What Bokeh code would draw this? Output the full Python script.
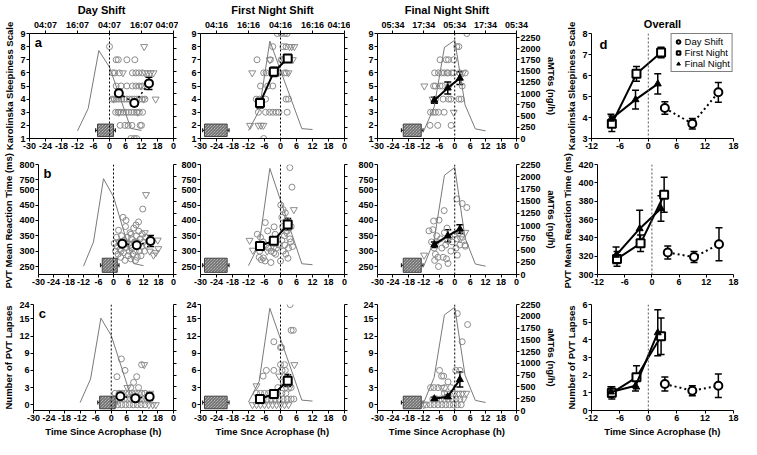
from bokeh.plotting import figure
from bokeh.models import (Range1d, LinearAxis, FixedTicker, Label, Span, Whisker, TeeHead,
                          ColumnDataSource, Legend, LegendItem)
from bokeh.layouts import row, column
from bokeh.embed import file_html
from bokeh.resources import INLINE

# ---------------- data ----------------
col_titles = ["Day Shift", "First Night Shift", "Final Night Shift", "Overall"]
clock_day = ["04:07", "16:07", "04:07", "16:07", "04:07"]
clock_first = ["04:16", "16:16", "04:16", "16:16", "04:16"]
clock_final = ["05:34", "17:34", "05:34", "17:34", "05:34"]
clock_ticks = [-24, -12, 0, 12, 24]
x_ticks = [-30, -24, -18, -12, -6, 0, 6, 12, 18, 24]
x_tick_labels = ["-30", "-24", "-18", "-12", "-6", "0", "6", "12", "18", "0"]
x_ticks_overall = [-12, -6, 0, 6, 12, 18]
x_tick_labels_overall = ["-12", "-6", "0", "6", "12", "18"]
mel_ticks = [0, 250, 500, 750, 1000, 1250, 1500, 1750, 2000, 2250]

# melatonin (aMT6s, ng/h) profiles
mel_day_x = [-12, -8, -4, 0, 8, 12]
mel_day = [170, 667, 1960, 1590, 225, 180]
mel_first_x = [-12, -8, -4, 8, 12]
mel_first = [180, 620, 2170, 220, 200]
mel_final_x = [-12, -8, -4, 0, 4, 8, 12]
mel_final = [175, 700, 2030, 2190, 750, 215, 170]

# sleep periods (h since acrophase)
sleep_day = [-4.5, 1.5]
sleep_first = [-28.5, -20.0]
sleep_final = [-20.0, -13.0]

# group means
day_x = [3.5, 9.3, 14.8]
first_x = [-7.7, -2.5, 2.7]
final_x = [-7.9, -2.7, 2.0]
kss_day = [4.45, 3.7, 5.2]
kss_day_err = [0.3, 0.25, 0.47]
kss_first = [3.7, 6.08, 7.1]
kss_first_err = [0.37, 0.35, 0.25]
kss_final = [3.92, 4.85, 5.6]
kss_final_err = [0.23, 0.45, 0.48]
rt_day = [324, 319, 333]
rt_day_err = [7, 6, 18]
rt_first = [317, 334, 387]
rt_first_err = [8, 9, 19]
rt_final = [321, 350, 372]
rt_final_err = [9, 20, 14]
lap_day = [1.5, 1.12, 1.4]
lap_day_err = [0.4, 0.28, 0.67]
lap_first = [1.0, 1.88, 4.2]
lap_first_err = [0.35, 0.65, 1.03]
lap_final = [1.05, 1.4, 4.4]
lap_final_err = [0.3, 0.3, 1.3]

# individual observations (x = h since acrophase)
kss_day_circles = [(0, 8), (2.5, 7), (3.3, 7), (6.5, 7), (9.5, 7),
    (1.2, 6), (2.0, 6), (3.7, 6), (8.6, 6), (9.9, 6), (11.0, 6), (12.3, 6),
    (2.5, 5), (4.3, 5), (6.5, 5), (8.6, 5), (9.9, 5), (11.1, 5), (12.3, 5),
    (1.0, 4), (1.8, 4), (2.6, 4), (3.5, 4), (4.5, 4), (5.5, 4), (6.5, 4), (7.5, 4), (8.5, 4),
    (9.4, 4), (10.3, 4), (11.2, 4), (12.2, 4), (13.3, 4),
    (2.3, 3), (3.2, 3), (4.2, 3), (5.2, 3), (6.2, 3), (7.2, 3), (8.2, 3), (9.2, 3), (10.2, 3),
    (11.2, 3), (12.4, 3), (4.0, 2), (5.8, 2), (7.0, 2), (8.4, 2), (11.5, 2), (12.0, 2),
    (8.0, 1), (9.3, 1), (10.2, 1)]
kss_day_tris = [(13.0, 8), (5.0, 6), (13.3, 6), (14.3, 6), (15.4, 6), (16.5, 6), (11.8, 5),
    (1.5, 4), (12.8, 4), (17.3, 4), (3.5, 3), (10.6, 3)]
kss_first_circles = [(-1.2, 9), (0.2, 9), (1.5, 9), (2.5, 9), (-2.9, 8), (0.9, 8), (2.1, 8),
    (-8.8, 7), (-3.8, 7), (0.5, 7), (1.5, 7), (2.5, 7), (3.3, 7), (0.3, 7),
    (-6.3, 6), (-5.4, 6), (-3.5, 6), (-1.6, 6), (1.5, 6), (2.2, 6), (-2.5, 6), (-0.5, 6),
    (-7.5, 5), (-4.8, 5), (-2.9, 5), (-9.1, 4), (-7.9, 4), (-5.6, 4), (2.1, 4), (3.0, 4),
    (-8.3, 3), (-5.6, 3), (-4.1, 3), (-2.9, 3), (-1.6, 3), (-0.6, 3), (2.5, 3), (-6.3, 1)]
kss_first_tris = [(3.4, 8), (4.2, 8), (5.2, 8), (4.6, 7), (-4.0, 7), (-10.6, 6), (3.0, 6),
    (-1.0, 6), (-11.4, 2), (-8.3, 2), (-7.3, 2), (-6.4, 2)]
kss_final_circles = [(4.7, 9), (0.8, 8), (1.6, 8), (-5.7, 7), (-3.3, 7), (-2.4, 7), (-0.4, 7),
    (-7.8, 6), (-6.3, 6), (-5.1, 6), (-4.1, 6), (-2.6, 6), (-1.2, 6), (-0.4, 6), (2.0, 6),
    (4.1, 6), (-3.0, 6), (-8.2, 5), (-7.5, 5), (-5.7, 5), (-4.8, 5), (2.9, 5),
    (-7.5, 4), (-4.5, 4), (-2.4, 4), (1.6, 4), (2.5, 4), (-1.5, 4),
    (-9.4, 3), (-8.4, 3), (-7.5, 3), (-6.3, 3), (-4.1, 3), (-9.6, 2), (-6.6, 2), (-1.4, 2)]
kss_final_tris = [(-11.8, 5), (-2.0, 5), (3.2, 6), (-8.6, 4), (-0.4, 3)]

rt_day_circles = [(0.3, 325), (0.8, 300), (1.2, 345), (1.5, 315), (1.8, 290), (2.0, 368),
    (2.3, 330), (2.6, 305), (2.9, 280), (3.2, 350), (3.5, 318), (3.8, 410), (4.0, 295),
    (4.3, 335), (4.6, 270), (5.0, 400), (5.2, 312), (5.5, 345), (5.8, 285), (6.0, 325),
    (6.3, 300), (6.6, 360), (6.9, 275), (7.2, 340), (7.5, 310), (7.8, 290), (8.1, 375),
    (8.4, 330), (8.7, 300), (9.0, 385), (9.2, 350), (9.5, 280), (9.8, 320), (10.1, 365),
    (10.4, 300), (10.7, 340), (11.0, 285), (11.3, 315), (11.7, 437), (12.0, 330),
    (12.4, 300), (12.8, 345), (13.2, 320), (4.8, 380), (7.0, 355), (8.8, 270), (10.0, 395),
    (3.0, 300), (6.8, 320), (11.5, 355)]
rt_day_tris = [(13.0, 484), (17.7, 336), (17.9, 308), (16.0, 287), (16.9, 295), (14.5, 300),
    (2.0, 330), (9.0, 330), (5.5, 325), (12.5, 360)]
rt_first_circles = [(3.5, 790), (4.3, 565), (0.1, 450), (1.0, 435), (1.8, 425), (0.5, 410),
    (2.4, 400), (-5.7, 393), (-8.7, 355), (-4.8, 366), (-2.4, 379), (-7.5, 345), (-6.5, 330),
    (-5.5, 320), (-4.5, 310), (-3.5, 300), (-2.5, 295), (-1.5, 310), (-0.5, 320), (0.5, 335),
    (1.5, 350), (2.5, 365), (3.5, 340), (4.5, 315), (1.0, 300), (2.0, 290), (-8.0, 280),
    (-7.2, 272), (-6.4, 278), (-5.8, 268), (-3.6, 263), (0.0, 268), (2.8, 277), (-1.0, 340),
    (-2.0, 355), (3.0, 310), (0.8, 380), (-7.8, 300), (-6.8, 310), (-1.8, 290), (1.6, 320),
    (4.0, 380), (3.8, 330)]
rt_first_tris = [(5.0, 435), (-11.6, 335), (-10.4, 303), (2.0, 360), (-2.5, 310), (-5.0, 300)]
rt_final_circles = [(0.8, 470), (2.9, 455), (4.7, 442), (-4.1, 432), (-8.2, 398), (-6.1, 401),
    (-10.0, 366), (-8.5, 370), (-7.0, 350), (-5.5, 340), (-4.0, 360), (-3.0, 375), (-2.0, 345),
    (-1.0, 330), (0.0, 355), (1.0, 340), (2.0, 320), (3.0, 345), (4.0, 320), (-9.0, 330),
    (-8.0, 310), (-7.5, 290), (-6.5, 280), (-6.3, 250), (-2.6, 260), (1.0, 287), (4.1, 316),
    (-5.0, 310), (-3.5, 320), (-1.5, 300), (0.5, 310), (-4.5, 280), (-3.2, 275), (1.5, 360),
    (-7.8, 270)]
rt_final_tris = [(-11.9, 287), (4.1, 361), (-6.8, 330), (-2.8, 335), (2.2, 340)]

lap_day_circles = [(3.9, 8), (5.3, 6), (2.2, 4.9), (9.8, 4.9), (8.6, 3.9), (11.7, 7),
    (1.5, 2), (3.0, 2), (4.2, 2), (5.5, 2), (6.8, 2), (8.0, 2), (9.3, 2), (10.5, 2), (11.8, 2),
    (13.0, 2), (2.0, 1), (3.5, 1), (5.0, 1), (6.2, 1), (7.5, 1), (8.8, 1), (10.0, 1), (11.2, 1),
    (12.5, 1), (13.8, 1), (1.0, 0), (2.5, 0), (4.0, 0), (5.5, 0), (7.0, 0), (8.5, 0), (10.0, 0),
    (11.5, 0), (13.0, 0), (7.5, 3), (10.5, 3)]
lap_day_tris = [(12.7, 7), (16.0, 0), (17.2, 0), (14.5, 0), (15.0, 2), (14.8, 1), (6.2, 3)]
lap_first_circles = [(3.6, 24), (4.0, 13), (4.8, 13), (-2.5, 11), (0.0, 10), (0.4, 10),
    (-5.3, 6), (-2.5, 6), (-6.5, 5), (0.0, 7), (1.5, 7), (0.6, 6), (1.8, 6), (2.5, 5), (3.2, 4),
    (4.0, 3), (-9.0, 2), (-7.5, 2), (-6.0, 2), (-4.5, 2), (-3.0, 2), (-1.5, 2), (0.5, 2), (2.0, 2),
    (-8.0, 1), (-6.5, 1), (-5.0, 1), (-3.5, 1), (-2.0, 1), (-0.5, 1), (1.0, 1), (2.5, 1), (4.0, 1),
    (5.0, 1), (-1.0, 3), (1.0, 4)]
lap_first_tris = [(5.2, 7), (-9.0, 3.3), (3.5, 3), (-10.5, 0), (-9.0, 0), (-7.5, 0), (-6.0, 0),
    (-4.5, 0), (-3.0, 0), (-1.5, 0), (0.0, 0), (1.5, 0), (3.0, 0), (-0.5, 5), (2.0, 3)]
lap_final_circles = [(1.0, 18.3), (5.0, 14), (2.9, 11), (-5.9, 6), (-5.1, 5), (-4.3, 5), (0.4, 6),
    (2.0, 6), (-2.6, 4), (-9.4, 3), (-8.1, 3), (-4.0, 3), (-4.0, 2), (-8.5, 1), (-7.0, 1),
    (-5.5, 1), (-4.0, 1), (-2.5, 1), (-1.0, 1), (0.5, 1), (2.0, 1), (-11.0, 0), (-9.5, 0),
    (-8.0, 0), (-6.5, 0), (-5.0, 0), (-3.5, 0), (-2.0, 0), (-0.5, 0), (1.0, 0), (2.5, 0),
    (-6.5, 3), (-1.5, 3)]
lap_final_tris = [(-5.1, 3), (0.0, 2), (1.5, 2), (3.0, 2), (4.5, 2), (-12.0, 0), (3.5, 1), (-3.0, 2)]

# ---------------- style / layout ----------------
FONT = "Liberation Sans"
GRAY = "#8c8c8c"
widths = [178, 172, 209, 182]
borders_lr = [(29, 5), (22, 6), (27, 38), (32, 8)]
heights = [152, 138, 149]
borders_tb = [(28, 14), (12, 16), (14, 27)]


def ident(v):
    return v


def brk_rt(v):  # broken axis 500 | 750
    if v <= 500:
        return v
    if v >= 750:
        return 532 + (v - 750)
    return 500 + (v - 500) * 32 / 250


def brk_lap(v):  # broken axis 15 | 24
    if v <= 15:
        return v
    if v >= 24:
        return 17.5 + (v - 24)
    return 15 + (v - 15) * 2.5 / 9


row_cfg = [
    dict(yr=(1, 9), ticks=[1, 2, 3, 4, 5, 6, 7, 8, 9], ov={}, mel=(0, 2340), box=(1.15, 2.1),
         label="Karolinska Sleepiness Scale", tf=ident, panel="a", py=8.85,
         yr4=(3, 8), ticks4=[3, 4, 5, 6, 7, 8]),
    dict(yr=(224, 582), ticks=[250, 300, 350, 400, 450, 500, 532, 582],
         ov={532: "750", 582: "800"}, mel=(0, 2250), box=(231, 277),
         label="PVT Mean Reaction  Time (ms)", tf=brk_rt, panel="b", py=577,
         yr4=(300, 420), ticks4=[300, 320, 340, 360, 380, 400, 420]),
    dict(yr=(-1, 17.5), ticks=[0, 3, 6, 9, 12, 15, 17.5], ov={17.5: "24"}, mel=(0, 2250),
         box=(-0.7, 1.5), label="Number of PVT Lapses", tf=brk_lap, panel="c", py=17.2,
         yr4=(0, 6), ticks4=[0, 1, 2, 3, 4, 5, 6]),
]

scatter_data = [
    [(kss_day_circles, kss_day_tris), (kss_first_circles, kss_first_tris), (kss_final_circles, kss_final_tris)],
    [(rt_day_circles, rt_day_tris), (rt_first_circles, rt_first_tris), (rt_final_circles, rt_final_tris)],
    [(lap_day_circles, lap_day_tris), (lap_first_circles, lap_first_tris), (lap_final_circles, lap_final_tris)],
]
mean_data = [
    [(day_x, kss_day, kss_day_err), (first_x, kss_first, kss_first_err), (final_x, kss_final, kss_final_err)],
    [(day_x, rt_day, rt_day_err), (first_x, rt_first, rt_first_err), (final_x, rt_final, rt_final_err)],
    [(day_x, lap_day, lap_day_err), (first_x, lap_first, lap_first_err), (final_x, lap_final, lap_final_err)],
]
mel_data = [(mel_day_x, mel_day), (mel_first_x, mel_first), (mel_final_x, mel_final)]
sleep_data = [sleep_day, sleep_first, sleep_final]
clocks = [clock_day, clock_first, clock_final]
kinds = ["day", "first", "final"]
xlabels = ["Time Since Acrophase (h)", "Time Snce Acrophase (h)",
           "Time Since Acrophase (h)", "Time Since Acrophase (h)"]


def style_axis(ax):
    ax.axis_line_color = "black"
    ax.axis_line_width = 1
    ax.major_tick_line_color = "black"
    ax.major_tick_line_width = 1
    ax.major_tick_in = 0
    ax.major_tick_out = 3
    ax.minor_tick_line_color = None
    ax.major_label_text_font = FONT
    ax.major_label_text_font_style = "bold"
    ax.major_label_text_font_size = "9px"
    ax.major_label_text_color = "black"
    ax.major_label_standoff = 1
    ax.axis_label_text_font = FONT
    ax.axis_label_text_font_style = "bold"
    ax.axis_label_text_font_size = "9.5px"
    ax.axis_label_text_color = "black"
    ax.axis_label_standoff = 2


def new_fig(ci, ri, xr, yr, title=None):
    bl, br = borders_lr[ci]
    bt, bb = borders_tb[ri]
    p = figure(width=widths[ci], height=heights[ri], x_range=Range1d(*xr), y_range=Range1d(*yr),
               output_backend="svg", toolbar_location=None, title=title,
               min_border_left=bl, min_border_right=br, min_border_top=bt, min_border_bottom=bb)
    p.xgrid.visible = False
    p.ygrid.visible = False
    p.outline_line_color = None
    p.background_fill_color = "white"
    p.border_fill_color = "white"
    if title:
        p.title.align = "center"
        p.title.text_font = FONT
        p.title.text_font_size = "11px"
        p.title.text_font_style = "bold"
        p.title.text_color = "black"
        p.title.standoff = 2
    return p


def add_means(p, xs, ys, errs, kind, tf, lw=2):
    yd = [tf(v) for v in ys]
    lo = [tf(v - e) for v, e in zip(ys, errs)]
    hi = [tf(v + e) for v, e in zip(ys, errs)]
    dash = "2 3" if kind == "day" else "solid"
    p.line(xs, yd, line_color="black", line_width=lw, line_dash=dash)
    src = ColumnDataSource(dict(x=xs, lo=lo, hi=hi))
    w = Whisker(source=src, base="x", lower="lo", upper="hi", line_color="black", line_width=1.5,
                upper_head=TeeHead(size=7, line_color="black", line_width=1.5),
                lower_head=TeeHead(size=7, line_color="black", line_width=1.5), level="underlay")
    p.add_layout(w)
    if kind == "day":
        r = p.scatter(xs, yd, marker="circle", size=8, fill_color="white",
                      line_color="black", line_width=2)
    elif kind == "first":
        r = p.scatter(xs, yd, marker="square", size=8, fill_color="white",
                      line_color="black", line_width=2)
    else:
        r = p.scatter(xs, yd, marker="triangle", size=7, fill_color="black",
                      line_color="black", line_width=1)
    return r


grid = []
for ri, cfg in enumerate(row_cfg):
    figs = []
    tf = cfg["tf"]
    # --- shift panels ---
    for ci in range(3):
        title = col_titles[ci] if ri == 0 else None
        p = new_fig(ci, ri, (-30, 24), cfg["yr"], title)
        p.extra_y_ranges = {"mel": Range1d(*cfg["mel"])}
        xa = p.below[0]
        style_axis(xa)
        xa.ticker = FixedTicker(ticks=x_ticks)
        xa.major_label_overrides = {t: s for t, s in zip(x_ticks, x_tick_labels)}
        if ri == 2:
            xa.axis_label = xlabels[ci]
        ya = p.left[0]
        style_axis(ya)
        ya.ticker = FixedTicker(ticks=cfg["ticks"])
        ya.major_label_overrides = dict(cfg["ov"])
        if ci == 0:
            ya.axis_label = cfg["label"]
        ra = LinearAxis(y_range_name="mel", ticker=FixedTicker(ticks=mel_ticks))
        style_axis(ra)
        if ci == 2:
            ra.axis_label = "aMT6s (ng/h)"
        else:
            ra.major_label_overrides = {t: "" for t in mel_ticks}
            ra.major_label_standoff = 0
        p.add_layout(ra, "right")
        if ri == 0:
            ta = LinearAxis(ticker=FixedTicker(ticks=clock_ticks))
            style_axis(ta)
            ta.major_label_overrides = {t: s for t, s in zip(clock_ticks, clocks[ci])}
            p.add_layout(ta, "above")

        circ, tris = scatter_data[ri][ci]
        p.scatter([a for a, b in circ], [tf(b) for a, b in circ], marker="circle", size=6,
                  fill_color=None, line_color=GRAY, line_width=1)
        p.scatter([a for a, b in tris], [tf(b) for a, b in tris], marker="inverted_triangle",
                  size=7, fill_color=None, line_color=GRAY, line_width=1)
        mx, my = mel_data[ci]
        p.line(mx, my, y_range_name="mel", line_color="#7a7a7a", line_width=1)
        s0, s1 = sleep_data[ci]
        b0, b1 = cfg["box"]
        p.quad(left=[s0], right=[s1], bottom=[b0], top=[b1], fill_color="#d9d9d9",
               line_color="#444444", line_width=1, hatch_pattern="left_diagonal_line",
               hatch_color="#333333", hatch_scale=3, hatch_weight=0.8)
        ym = (b0 + b1) / 2
        for edge in (s0, s1):
            ssrc = ColumnDataSource(dict(y=[ym], lo=[edge - 0.7], hi=[edge + 0.7]))
            p.add_layout(Whisker(source=ssrc, base="y", lower="lo", upper="hi", dimension="width",
                                 line_color="#222222", line_width=1.2,
                                 upper_head=TeeHead(size=4, line_color="#222222", line_width=1.2),
                                 lower_head=TeeHead(size=4, line_color="#222222", line_width=1.2)))
        xs, ys, es = mean_data[ri][ci]
        add_means(p, xs, ys, es, kinds[ci], tf, lw=2 if ci else 1.5)
        p.add_layout(Span(location=0, dimension="height", line_color="black",
                          line_width=1, line_dash="2 2"))
        if ci == 0:
            p.add_layout(Label(x=-28, y=cfg["py"], text=cfg["panel"], text_font=FONT,
                               text_font_style="bold", text_font_size="13px",
                               text_baseline="top", text_color="black"))
        figs.append(p)

    # --- overall panel ---
    p = new_fig(3, ri, (-12, 18), cfg["yr4"], col_titles[3] if ri == 0 else None)
    xa = p.below[0]
    style_axis(xa)
    xa.ticker = FixedTicker(ticks=x_ticks_overall)
    xa.major_label_overrides = {t: s for t, s in zip(x_ticks_overall, x_tick_labels_overall)}
    if ri == 2:
        xa.axis_label = xlabels[3]
    ya = p.left[0]
    style_axis(ya)
    ya.ticker = FixedTicker(ticks=cfg["ticks4"])
    ya.axis_label = cfg["label"]
    if ri == 0:
        ta = LinearAxis(ticker=FixedTicker(ticks=x_ticks_overall))
        style_axis(ta)
        ta.axis_line_color = None
        ta.major_tick_line_color = None
        ta.major_label_text_color = None
        p.add_layout(ta, "above")
    p.add_layout(Span(location=0, dimension="height", line_color="#555555",
                      line_width=1, line_dash="2 2"))
    rends = []
    for k in range(3):
        xs, ys, es = mean_data[ri][k]
        rends.append(add_means(p, xs, ys, es, kinds[k], ident))
    if ri == 0:
        p.add_layout(Label(x=-10.3, y=7.85, text="d", text_font=FONT, text_font_style="bold",
                           text_font_size="13px", text_baseline="top", text_color="black"))
        leg = Legend(items=[LegendItem(label="Day Shift", renderers=[rends[0]]),
                            LegendItem(label="First Night", renderers=[rends[1]]),
                            LegendItem(label="Final Night", renderers=[rends[2]])],
                     location="top_right")
        leg.label_text_font = FONT
        leg.label_text_font_size = "9.5px"
        leg.label_text_color = "black"
        leg.label_height = 9
        leg.glyph_height = 9
        leg.glyph_width = 9
        leg.spacing = 0
        leg.padding = 2
        leg.margin = 0
        leg.label_standoff = 2
        leg.border_line_color = "black"
        leg.border_line_width = 1.5
        leg.background_fill_color = "white"
        p.add_layout(leg)
    figs.append(p)
    grid.append(figs)

layout = column(*[row(*figs) for figs in grid])
open("out.html", "w").write(file_html(layout, INLINE))
